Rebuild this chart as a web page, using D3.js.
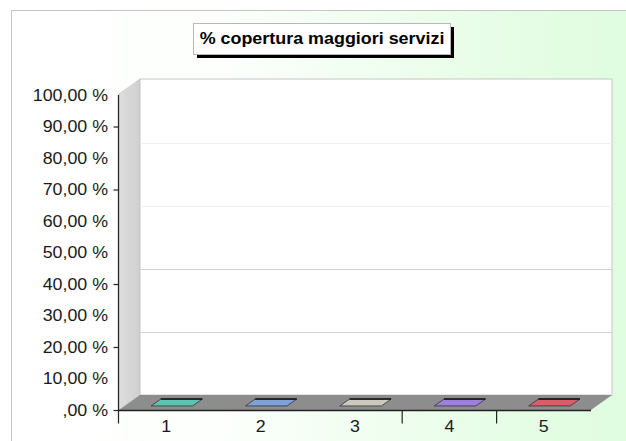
<!DOCTYPE html>
<html><head><meta charset="utf-8">
<script src="https://cdn.jsdelivr.net/npm/d3@7"></script>
<style>body{margin:0;background:#fff;overflow:hidden}</style>
</head><body>
<script>
// ---- data ----
const title = "% copertura maggiori servizi";
const categories = ["1", "2", "3", "4", "5"];
const values = [0, 0, 0, 0, 0];
const barColors = ["#5ec2b2", "#7fa1d8", "#cbc8bd", "#9d80dc", "#da5c68"];
const yTickValues = [0, 10, 20, 30, 40, 50, 60, 70, 80, 90, 100];
const yTickMarks = [0, 20, 40, 70, 90];
const xTickMarks = ["4", "5"];
const gridValues = [20, 40, 60, 80];

const fmt = v => { const s = v.toFixed(2).replace(".", ","); return (v === 0 ? s.replace(/^0/, "") : s) + " %"; };

// ---- layout ----
const W = 626, H = 441;
const x0 = 119, x1 = 591;
const dx = 21, dy = -15;
const yScale = d3.scaleLinear().domain([0, 100]).range([410, 95]);
const xBand = d3.scaleBand().domain(categories).range([x0, x1]).padding(0);

const svg = d3.select("body").append("svg").attr("width", W).attr("height", H)
  .style("font-family", "Arial, 'Liberation Sans', sans-serif");

const defs = svg.append("defs");
const g1 = defs.append("linearGradient").attr("id", "bg").attr("x1", "0").attr("x2", "1").attr("y1", "0").attr("y2", "0");
g1.append("stop").attr("offset", "0").attr("stop-color", "#ffffff");
g1.append("stop").attr("offset", "0.3").attr("stop-color", "#fcfffc");
g1.append("stop").attr("offset", "0.75").attr("stop-color", "#e4fde4");
g1.append("stop").attr("offset", "1").attr("stop-color", "#dcfcdc");
const g2 = defs.append("linearGradient").attr("id", "wall").attr("x1", "0").attr("x2", "1").attr("y1", "0").attr("y2", "0");
g2.append("stop").attr("offset", "0").attr("stop-color", "#dedede");
g2.append("stop").attr("offset", "1").attr("stop-color", "#cfcfcf");

// background panel
svg.append("rect").attr("x", 11.5).attr("y", 10.5).attr("width", 700).attr("height", 500)
  .attr("fill", "url(#bg)").attr("stroke", "#c4c4c4");

// title box with shadow
svg.append("rect").attr("x", 197).attr("y", 27).attr("width", 257).attr("height", 31).attr("fill", "#000");
svg.append("rect").attr("x", 193.5).attr("y", 23.5).attr("width", 257).attr("height", 31)
  .attr("fill", "#fff").attr("stroke", "#b8b8b8");
svg.append("g").attr("transform", "translate(322,43.5) scale(1.12,1)")
  .append("text").attr("text-anchor", "middle").attr("font-weight", "bold")
  .attr("font-size", 16).attr("fill", "#000").text(title);

const y0 = yScale(0), yTop = yScale(100);
// left side wall
svg.append("polygon")
  .attr("points", [[x0, yTop - 1], [x0 + dx, yTop - 1 + dy], [x0 + dx, y0 + dy], [x0, y0]].map(p => p.join(",")).join(" "))
  .attr("fill", "url(#wall)").attr("stroke", "#bdbdbd").attr("stroke-width", 0.6);

// back wall
svg.append("rect").attr("x", x0 + dx).attr("y", yTop - 1 + dy).attr("width", x1 - x0).attr("height", y0 - yTop + 1)
  .attr("fill", "#fff").attr("stroke", "#c6c6c6");

// gridlines on back wall
svg.append("g").selectAll("line").data(gridValues).join("line")
  .attr("x1", x0 + dx).attr("x2", x1 + dx)
  .attr("y1", d => yScale(d) + dy + 0.5).attr("y2", d => yScale(d) + dy + 0.5)
  .attr("stroke", d => d <= 40 ? "#d2d2d2" : "#f0f0f0").attr("stroke-width", 1.2);

// floor
svg.append("polygon")
  .attr("points", [[x0, y0], [x1, y0], [x1 + dx, y0 + dy], [x0 + dx, y0 + dy]].map(p => p.join(",")).join(" "))
  .attr("fill", "#8d8d8d");

// bars (zero-height 3D bars: top face on floor)
const bw = xBand.bandwidth() * 0.44;
const f0 = 0.27, f1 = 0.73;
const bars = svg.append("g").selectAll("g").data(categories).join("g");
bars.append("polygon")
  .attr("points", (c, i) => {
    const cx = xBand(c) + xBand.bandwidth() / 2, y = yScale(values[i]);
    const l = cx - bw / 2, r = cx + bw / 2;
    return [[l + dx * f0, y + dy * f0], [r + dx * f0, y + dy * f0], [r + dx * f1, y + dy * f1], [l + dx * f1, y + dy * f1]]
      .map(p => p.join(",")).join(" ");
  })
  .attr("fill", (c, i) => barColors[i]).attr("stroke", "#333").attr("stroke-width", 0.8);
bars.append("line")
  .attr("x1", (c, i) => xBand(c) + xBand.bandwidth() / 2 - bw / 2 + dx * f1)
  .attr("x2", (c, i) => xBand(c) + xBand.bandwidth() / 2 + bw / 2 + dx * f1)
  .attr("y1", (c, i) => yScale(values[i]) + dy * f1).attr("y2", (c, i) => yScale(values[i]) + dy * f1)
  .attr("stroke", "#111").attr("stroke-width", 1.6);

// y axis
svg.append("line").attr("x1", x0 - 0.5).attr("x2", x0 - 0.5).attr("y1", yTop).attr("y2", 423.5)
  .attr("stroke", "#222").attr("stroke-width", 1.2);
const yAx = svg.append("g").attr("transform", `translate(${x0 - 0.5},0)`)
  .call(d3.axisLeft(yScale).tickValues(yTickMarks).tickSize(5).tickFormat(""));
yAx.select(".domain").remove();
yAx.selectAll("line").attr("stroke", "#222").attr("stroke-width", 1.2);
svg.append("g").selectAll("g").data(yTickValues).join("g")
  .attr("transform", d => `translate(108,${yScale(d) + 5.5}) scale(1.08,1)`)
  .append("text").attr("text-anchor", "end").attr("font-size", 16.5).attr("fill", "#1a1a1a").text(fmt);

// x axis
svg.append("line").attr("x1", x0 - 1).attr("x2", x1).attr("y1", y0 + 0.5).attr("y2", y0 + 0.5)
  .attr("stroke", "#222").attr("stroke-width", 1.3);
svg.append("g").selectAll("line").data(xTickMarks).join("line")
  .attr("x1", c => xBand(c)).attr("x2", c => xBand(c)).attr("y1", y0).attr("y2", 423.5)
  .attr("stroke", "#222").attr("stroke-width", 1.2);
svg.append("g").selectAll("g").data(categories).join("g")
  .attr("transform", c => `translate(${xBand(c) + xBand.bandwidth() / 2},432) scale(1.08,1)`)
  .append("text").attr("text-anchor", "middle").attr("font-size", 16.5).attr("fill", "#1a1a1a").text(c => c);
</script>
</body></html>
